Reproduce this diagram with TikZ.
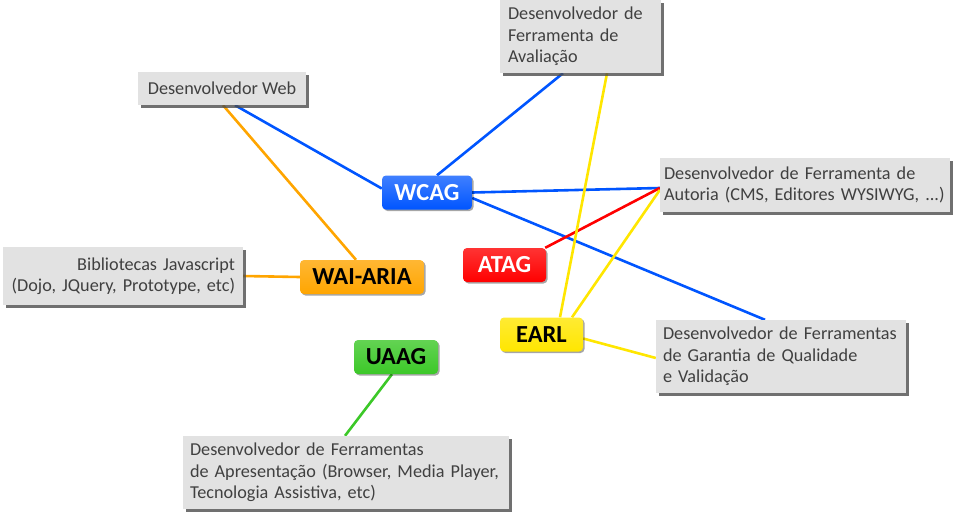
\documentclass[tikz,border=0pt]{standalone}
\usepackage{fontspec}
\setmainfont{Carlito}
\usepackage{tikz}
\usetikzlibrary{calc,shadows,backgrounds}
\definecolor{mmblue}{RGB}{0,85,255}
\definecolor{mmred}{RGB}{255,0,0}
\definecolor{mmorange}{RGB}{255,165,0}
\definecolor{mmyellow}{RGB}{255,230,0}
\definecolor{mmgreen}{RGB}{60,200,40}
\definecolor{mmgray}{RGB}{226,226,226}
\definecolor{mmtext}{RGB}{64,64,64}

\begin{document}
\begin{tikzpicture}[
  x=1pt,y=-1pt,
  topic/.style={rounded corners=4pt,inner sep=0pt,minimum height=34pt,
                font=\fontsize{24.5}{28}\selectfont\bfseries,
                drop shadow={shadow xshift=1.5pt,shadow yshift=-1.5pt,fill=black,opacity=.35}},
  who/.style={fill=mmgray,inner sep=0pt,font=\fontsize{18.2}{21.5}\selectfont,text=mmtext,
              drop shadow={shadow xshift=3pt,shadow yshift=-3pt,fill=black!70,opacity=.8}},
  link/.style={line width=2.6pt}
]
\useasboundingbox (0,0) rectangle (958,517);

% who uses the guidelines
\node[who,minimum width=168pt,minimum height=33pt] (web) at (222,88.5) {Desenvolvedor Web};
\node[who,minimum width=161pt,minimum height=73pt,text width=145pt,align=left] (aval) at (580.5,36.5)
  {Desenvolvedor de\\Ferramenta de\\Avaliação};
\node[who,minimum width=290pt,minimum height=54pt,text width=282pt,align=left] (autoria) at (805,185)
  {Desenvolvedor de Ferramenta de\\Autoria (CMS, Editores WYSIWYG, ...)};
\node[who,minimum width=240pt,minimum height=58pt,text width=224pt,align=right] (biblio) at (123,276)
  {Bibliotecas Javascript\\(Dojo, JQuery, Prototype, etc)};
\node[who,minimum width=250pt,minimum height=73pt,text width=236pt,align=left] (garantia) at (781,356.5)
  {Desenvolvedor de Ferramentas\\de Garantia de Qualidade\\e Validação};
\node[who,minimum width=326pt,minimum height=73pt,text width=312pt,align=left] (apres) at (346,472.5)
  {Desenvolvedor de Ferramentas\\de Apresentação (Browser, Media Player,\\Tecnologia Assistiva, etc)};

% guidelines
\node[topic,minimum width=90pt,top color=mmblue!75!white,bottom color=mmblue,text=white] (wcag) at (427,192.5) {WCAG};
\node[topic,minimum width=83pt,top color=mmred!80!white,bottom color=mmred,text=white] (atag) at (504.5,265) {ATAG};
\node[topic,minimum width=124pt,top color=mmorange!80!white,bottom color=mmorange,text=black] (aria) at (362,277) {WAI-ARIA};
\node[topic,minimum width=83pt,top color=mmyellow!80!white,bottom color=mmyellow,text=black] (earl) at (541.5,334.5) {EARL};
\node[topic,minimum width=84pt,top color=mmgreen!80!white,bottom color=mmgreen,text=black] (uaag) at (396,357) {UAAG};

% links
\begin{pgfonlayer}{background}
\draw[link,mmblue] ($(wcag.west)+(0,-4)$) -- ($(web.south)+(13,0)$);
\draw[link,mmblue] ($(wcag.north)+(10,0)$) -- ($(aval.south)+(-17.5,0)$);
\draw[link,mmblue] (wcag.east) -- ($(autoria.west)+(0,3)$);
\draw[link,mmblue] ($(wcag.east)+(0,5.5)$) -- ($(garantia.north)+(-16,0)$);
\draw[link,mmred] ($(atag.north east)+(-1,0)$) -- ($(autoria.west)+(0,3)$);
\draw[link,mmorange] ($(aria.north)+(-6,0)$) -- ($(web.south)+(1,0)$);
\draw[link,mmorange] (aria.west) -- (biblio.east);
\draw[link,mmyellow] ($(earl.north)+(18.5,0)$) -- ($(aval.south)+(26.5,0)$);
\draw[link,mmyellow] ($(earl.north)+(30.5,0)$) -- ($(autoria.west)+(0,5)$);
\draw[link,mmyellow] ($(earl.east)+(0,4)$) -- ($(garantia.west)+(0,1.5)$);
\draw[link,mmgreen] ($(uaag.south)+(-4,0)$) -- ($(apres.north)+(-1,0)$);
\end{pgfonlayer}
\end{tikzpicture}
\end{document}
